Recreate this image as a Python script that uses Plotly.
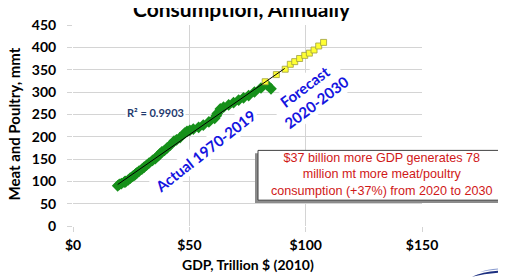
import numpy as np
import plotly.graph_objects as go

# ---------------- data ----------------
actual_gdp = [19.2, 19.9, 20.8, 22.0, 22.4, 22.6, 23.7, 24.6, 25.6, 26.5,
              27.0, 27.5, 28.4, 29.6, 30.6, 31.6, 32.7, 34.2, 35.4, 36.3,
              36.8, 37.5, 38.2, 39.3, 40.5, 41.8, 43.4, 44.5, 46.0, 48.0,
              49.0, 50.2, 51.7, 54.0, 56.0, 58.4, 60.9, 62.0, 61.6, 63.3,
              64.7, 66.9, 69.0, 71.2, 73.3, 75.5, 78.0, 80.8, 83.4, 85.1]
actual_meat = [90, 93, 95, 98, 100, 99, 103, 107, 111, 114,
               117, 119, 123, 127, 132, 136, 141, 147, 151, 156,
               158, 162, 166, 169, 175, 181, 190, 193, 198, 208,
               212, 214, 217, 221, 226, 233, 241, 252, 247, 262,
               266, 271, 276, 282, 287, 292, 300, 309, 316, 307]
forecast_gdp = [82.6, 87.4, 91.2, 93.4, 95.3, 97.4, 99.6, 101.6, 103.6, 105.6, 107.7]
forecast_meat = [323, 339, 351, 362, 368, 375, 382, 387, 394, 403, 411]
trend_end_gdp = 91.0

x_ticks = [0, 50, 100, 150]
x_tick_labels = ["$0", "$50", "$100", "$150"]
y_ticks = [0, 50, 100, 150, 200, 250, 300, 350, 400, 450]

# ---------------- layout helpers ----------------
# the page body has an 8px margin, so the figure is drawn 8px in from the
# window's top-left corner; sizes are reduced to keep it inside the window.
OFF = 8
WIN_W, WIN_H = 506, 279
W, H = WIN_W - OFF, WIN_H - OFF
PLOT_L, PLOT_R, PLOT_T, PLOT_B = 73, 422, 16, 226   # window pixels
ML, MT = PLOT_L - OFF, PLOT_T - OFF
MR, MB = WIN_W - PLOT_R, WIN_H - PLOT_B
PW, PH = PLOT_R - PLOT_L, PLOT_B - PLOT_T


def px2x(px):
    return (px - PLOT_L) / PW


def py2y(py):
    return (PLOT_B - py) / PH


# linear trendline fitted to the actual data
slope, intercept = np.polyfit(actual_gdp, actual_meat, 1)
tx = np.array([min(actual_gdp), trend_end_gdp])
ty = slope * tx + intercept

CAL = "Lato, 'Liberation Sans', Arial, sans-serif"

fig = go.Figure()
fig.add_trace(go.Scatter(
    x=actual_gdp, y=actual_meat, mode="markers",
    marker=dict(symbol="diamond", size=9, color="#16901a",
                line=dict(width=0)),
    showlegend=False, hoverinfo="skip"))
fig.add_trace(go.Scatter(
    x=forecast_gdp, y=forecast_meat, mode="markers",
    marker=dict(symbol="square", size=6, color="#ffff33",
                line=dict(width=0.8, color="#a0a040")),
    showlegend=False, hoverinfo="skip"))
fig.add_trace(go.Scatter(
    x=tx, y=ty, mode="lines", line=dict(color="#000000", width=1),
    showlegend=False, hoverinfo="skip"))

grid = "#d4d4d4"
fig.update_xaxes(range=[0, 150], tickvals=x_ticks, ticktext=x_tick_labels,
                 showgrid=True, gridcolor=grid, gridwidth=1, zeroline=False,
                 ticks="outside", ticklen=5, tickcolor=grid, showline=False,
                 tickfont=dict(family=CAL, size=14, color="#000", weight="bold"),
                 ticklabelstandoff=1, ticklabeloverflow="allow")
fig.update_yaxes(range=[0, 450], tickvals=y_ticks,
                 showgrid=True, gridcolor=grid, gridwidth=1, zeroline=False,
                 ticks="outside", ticklen=5, tickcolor=grid, showline=False,
                 tickfont=dict(family=CAL, size=14, color="#000", weight="bold"),
                 ticklabelstandoff=8, ticklabeloverflow="allow")

shapes = [
    # drop shadow of the note box
    dict(type="rect", xref="paper", yref="paper",
         x0=px2x(255), x1=px2x(503), y0=py2y(202), y1=py2y(150),
         fillcolor="#8c8c8c", line=dict(width=0), layer="above"),
    dict(type="rect", xref="paper", yref="paper",
         x0=px2x(258), x1=px2x(505), y0=py2y(199), y1=py2y(147),
         fillcolor="#ffffff", line=dict(width=1, color="#404040"), layer="above"),
    # logo swoosh (bottom right)
    dict(type="path", xref="paper", yref="paper",
         path=f"M {px2x(472)},{py2y(279)} Q {px2x(485)},{py2y(272.5)} {px2x(506)},{py2y(272.5)} "
              f"L {px2x(506)},{py2y(274.5)} Q {px2x(487)},{py2y(275)} {px2x(472)},{py2y(279)} Z",
         fillcolor="#1c2f80", line=dict(width=0), layer="above"),
    dict(type="path", xref="paper", yref="paper",
         path=f"M {px2x(480)},{py2y(274)} Q {px2x(490)},{py2y(270.5)} {px2x(506)},{py2y(270)} "
              f"L {px2x(506)},{py2y(271)} Q {px2x(492)},{py2y(271.5)} {px2x(480)},{py2y(274)} Z",
         fillcolor="#8a9cd0", line=dict(width=0), layer="above"),
]

annotations = [
    dict(text="<b>Consumption, Annually</b>", xref="paper", yref="paper",
         x=px2x(242), y=py2y(14), xanchor="center", yanchor="bottom",
         showarrow=False, font=dict(family=CAL, size=21, color="#000")),
    dict(text="<b>GDP, Trillion $ (2010)</b>", xref="paper", yref="paper",
         x=px2x(248), y=py2y(266), xanchor="center", yanchor="middle",
         showarrow=False, font=dict(family=CAL, size=14, color="#000")),
    dict(text="<b>Meat and Poultry, mmt</b>", xref="paper", yref="paper",
         x=px2x(14), y=py2y(120), xanchor="center", yanchor="middle",
         textangle=-90, showarrow=False,
         font=dict(family=CAL, size=15, color="#000")),
    dict(text="<b>R² = 0.9903</b>", xref="paper", yref="paper",
         x=px2x(155), y=py2y(107), xanchor="center", yanchor="middle",
         showarrow=False, bgcolor="#ffffff", borderpad=1,
         font=dict(family=CAL, size=11, color="#1f3a6e")),
    dict(text="<b>Actual 1970-2019</b>", xref="paper", yref="paper",
         x=px2x(205), y=py2y(148), xanchor="center", yanchor="middle",
         textangle=-38, showarrow=False, bgcolor="#ffffff", borderpad=1,
         font=dict(family=CAL, size=15, color="#1414e0")),
    dict(text="<b>Forecast<br>2020-2030</b>", xref="paper", yref="paper",
         x=px2x(310), y=py2y(89), xanchor="center", yanchor="middle",
         textangle=-37, showarrow=False, bgcolor="#ffffff", borderpad=1,
         font=dict(family=CAL, size=15, color="#1414e0")),
    dict(text="$37 billion more GDP generates 78<br>million mt more meat/poultry<br>"
              "consumption (+37%) from 2020 to 2030",
         xref="paper", yref="paper", x=px2x(382), y=py2y(172),
         xanchor="center", yanchor="middle", showarrow=False,
         font=dict(family="'Liberation Sans', Arial, sans-serif", size=12.6,
                   color="#d01818")),
]

fig.update_layout(
    width=W, height=H, margin=dict(l=ML, r=MR, t=MT, b=MB),
    paper_bgcolor="#ffffff", plot_bgcolor="#ffffff",
    shapes=shapes, annotations=annotations, showlegend=False,
)

fig.write_html("out.html")
